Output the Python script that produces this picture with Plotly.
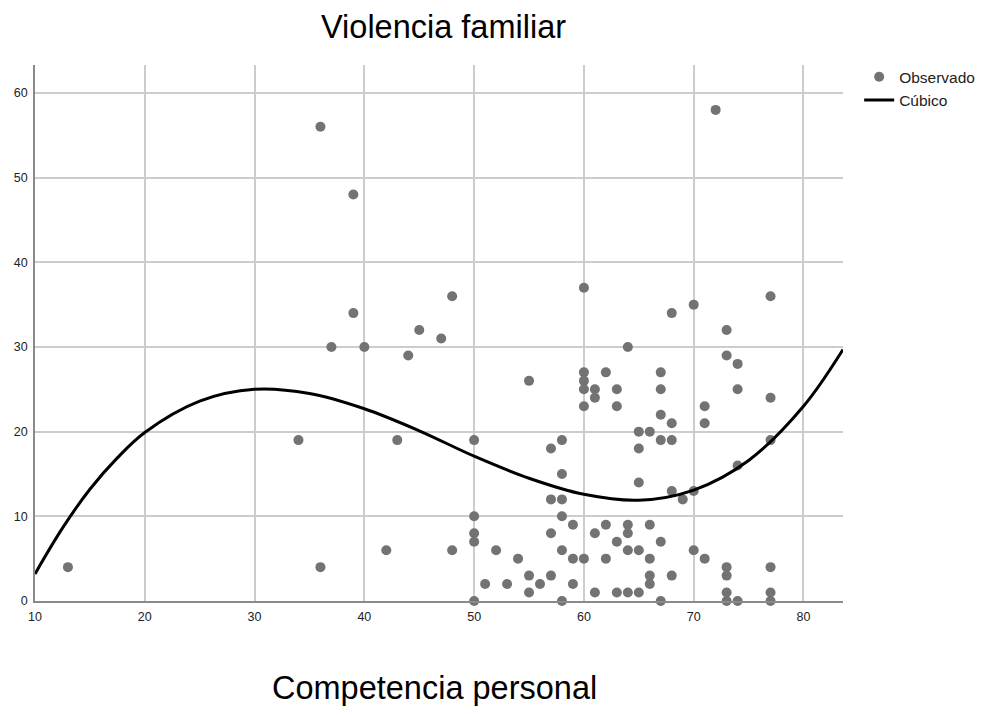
import plotly.graph_objects as go

# Observed data: Competencia personal (x) vs Violencia familiar (y)
obs_x = [13, 36, 39, 39, 37, 40, 44, 45, 47, 48, 34, 43, 50, 36, 42, 48,
         50, 50, 50, 51, 50, 52, 53, 54, 55, 55, 55, 56, 57, 57, 57, 57,
         58, 58, 58, 58, 58, 58, 59, 59, 59, 60, 60, 60, 60, 60, 60,
         61, 61, 61, 61, 62, 62, 62, 63, 63, 63, 63, 64, 64, 64, 64, 64,
         65, 65, 65, 65, 65, 66, 66, 66, 66, 66, 67, 67, 67, 67, 67, 67,
         68, 68, 68, 68, 68, 69, 70, 70, 70, 71, 71, 71, 72, 73, 73, 73,
         73, 73, 73, 74, 74, 74, 74, 77, 77, 77, 77, 77, 77]
obs_y = [4, 56, 48, 34, 30, 30, 29, 32, 31, 36, 19, 19, 19, 4, 6, 6,
         10, 8, 7, 2, 0, 6, 2, 5, 3, 1, 26, 2, 3, 8, 12, 18,
         19, 15, 12, 10, 6, 0, 9, 5, 2, 37, 27, 26, 25, 23, 5,
         25, 24, 8, 1, 27, 9, 5, 25, 23, 7, 1, 30, 9, 8, 6, 1,
         20, 18, 14, 6, 1, 20, 9, 5, 3, 2, 27, 25, 22, 19, 7, 0,
         34, 21, 19, 13, 3, 12, 35, 13, 6, 23, 21, 5, 58, 32, 29, 4,
         3, 1, 0, 28, 25, 16, 0, 36, 24, 19, 4, 1, 0]

# Cubic fit curve
curve_x = [10, 12.5, 15, 17.5, 20, 25, 30, 35, 40, 45, 50, 55, 60, 65, 70, 75, 80, 83.6]
curve_y = [3.2, 8.6, 13.2, 16.9, 19.9, 23.6, 25.0, 24.5, 22.7, 20.1, 17.1, 14.5,
           12.6, 11.9, 13.1, 16.6, 23.0, 29.7]

x_ticks = [10, 20, 30, 40, 50, 60, 70, 80]
y_ticks = [0, 10, 20, 30, 40, 50, 60]

FONT = "Liberation Sans, Arial, sans-serif"
tick_font = dict(family=FONT, size=12.5, color="#222222")

fig = go.Figure()
fig.add_trace(go.Scatter(
    x=obs_x, y=obs_y, mode="markers", name="Observado",
    marker=dict(size=10, color="#737373", line=dict(width=0)),
    cliponaxis=False,
))
fig.add_trace(go.Scatter(
    x=curve_x, y=curve_y, mode="lines", name="Cúbico",
    line=dict(color="#000000", width=3, shape="spline", smoothing=1.0),
))

# page body has an 8px margin, so the figure is offset by 8px right and down
fig.update_layout(
    width=976, height=707,
    margin=dict(l=27, r=141, t=57, b=114, autoexpand=False),
    paper_bgcolor="white", plot_bgcolor="white",
    showlegend=True,
    legend=dict(x=1.020, y=1.009, xanchor="left", yanchor="top",
                font=dict(family=FONT, size=15.5, color="#222222"),
                itemwidth=30, tracegroupgap=0, bgcolor="rgba(0,0,0,0)"),
    annotations=[
        dict(text="Violencia familiar", xref="paper", yref="paper",
             x=0.506, y=1.071, xanchor="center", yanchor="middle", showarrow=False,
             font=dict(family=FONT, size=32.5, color="#000000")),
        dict(text="Competencia personal", xref="paper", yref="paper",
             x=0.495, y=-0.162, xanchor="center", yanchor="middle", showarrow=False,
             font=dict(family=FONT, size=32.5, color="#000000")),
    ],
)

fig.update_xaxes(
    range=[10, 83.6], tickvals=x_ticks, ticktext=[str(v) for v in x_ticks],
    showgrid=True, gridcolor="#cccccc", gridwidth=1.5,
    showline=True, linecolor="#8a8a8a", linewidth=1.5,
    zeroline=False, ticks="", tickfont=tick_font, ticklabelstandoff=3,
    automargin=False,
)
fig.update_yaxes(
    range=[0, 63.3], tickvals=y_ticks, ticktext=[str(v) for v in y_ticks],
    showgrid=True, gridcolor="#cccccc", gridwidth=1.5,
    showline=True, linecolor="#8a8a8a", linewidth=1.5,
    zeroline=False, ticks="", tickfont=tick_font, ticklabelstandoff=3,
    automargin=False,
)

fig.write_html("out.html")
